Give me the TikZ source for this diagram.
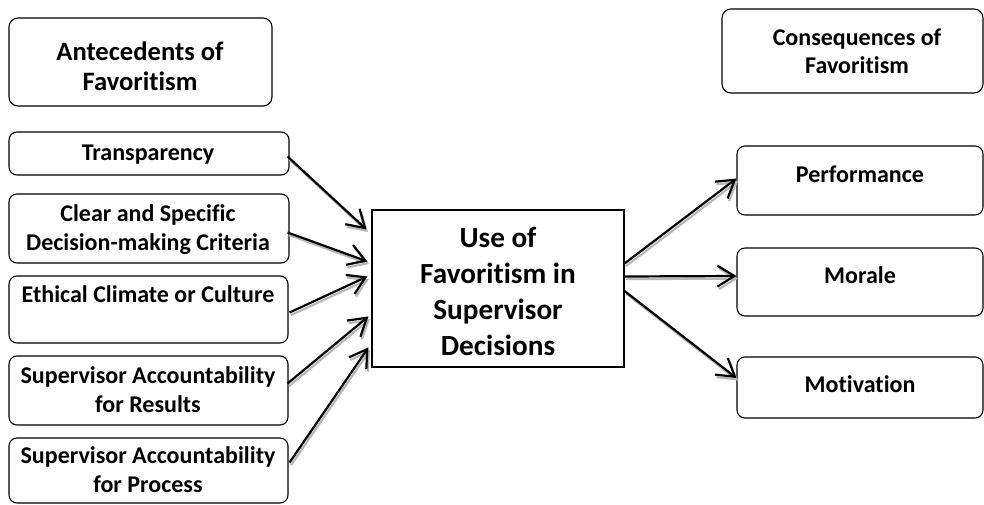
\documentclass[tikz,border=0pt]{standalone}
\usepackage{fontspec}
\setmainfont[Ligatures={NoCommon}]{Carlito}
\usetikzlibrary{arrows.meta,calc}
\begin{document}
\begin{tikzpicture}[x=1pt,y=-1pt,
  rbox/.style={draw, line width=1.1pt, rounded corners=9pt, inner sep=0pt},
  sqbox/.style={draw, line width=1.1pt, inner sep=0pt},
  lbl/.style={font=\fontsize{24}{28.5}\selectfont\bfseries, align=center, anchor=base, inner sep=0pt},
  hdl/.style={font=\fontsize{26.6}{30}\selectfont\bfseries, align=center, anchor=base, inner sep=0pt},
  hdr/.style={font=\fontsize{24}{28}\selectfont\bfseries, align=center, anchor=base, inner sep=0pt},
  ctr/.style={font=\fontsize{29.2}{35.7}\selectfont\bfseries, align=center, anchor=base, inner sep=0pt},
  arr/.style={line width=2.2pt, -{Straight Barb[length=17pt,width=21pt,line width=2.2pt]}},
  arrsh/.style={arr, draw=black!28, transform canvas={xshift=1.5pt,yshift=-2.6pt}}
]
\useasboundingbox (0,0) rectangle (984,504);

% boxes
\node[rbox, minimum width=263pt, minimum height=88pt] (ante) at (140.5,62) {};
\node[rbox, minimum width=261pt, minimum height=84pt] (cons) at (852.5,51) {};
\node[rbox, rounded corners=8pt, minimum width=280pt, minimum height=43pt] (trans) at (149,153.5) {};
\node[rbox, rounded corners=8pt, minimum width=280pt, minimum height=69pt] (clear) at (149,228.5) {};
\node[rbox, rounded corners=8pt, minimum width=279pt, minimum height=67pt] (ethic) at (148.5,309.5) {};
\node[rbox, rounded corners=8pt, minimum width=279pt, minimum height=69pt] (supr) at (148.5,390.5) {};
\node[rbox, rounded corners=8pt, minimum width=279pt, minimum height=65pt] (supp) at (148.5,470.5) {};
\node[sqbox, minimum width=252pt, minimum height=157pt] (use) at (498,288.5) {};
\node[rbox, rounded corners=8pt, minimum width=246pt, minimum height=69pt] (perf) at (860,180.5) {};
\node[rbox, rounded corners=8pt, minimum width=246pt, minimum height=68pt] (mor) at (860,282) {};
\node[rbox, rounded corners=8pt, minimum width=246pt, minimum height=61pt] (mot) at (860,387.5) {};

% texts (anchor = baseline of last line)
\node[hdl] (anteT) at (140,90) {Antecedents of\\Favoritism};
\node[hdr] (consT) at (857,73) {Consequences of\\Favoritism};
\node[lbl] (transT) at (148,160) {Transparency};
\node[lbl] (clearT) at (148,250) {Clear and Specific\\Decision-making Criteria};
\node[lbl] (ethicT) at (148,302) {Ethical Climate or Culture};
\node[lbl] (suprT) at (148,412) {Supervisor Accountability\\for Results};
\node[lbl] (suppT) at (148,492) {Supervisor Accountability\\for Process};
\node[ctr] (useT) at (498,355) {Use of\\Favoritism in\\Supervisor\\Decisions};
\node[lbl] (perfT) at (860,182) {Performance};
\node[lbl] (morT) at (860,283) {Morale};
\node[lbl] (motT) at (860,392) {Motivation};

% connectors (shadow then line)
\foreach \s in {arrsh,arr}{
  \draw[\s] ($(trans.east)+(-2,3)$) -- ($(use.north west)+(-5,20)$);
  \draw[\s] ($(clear.east)+(-2,4)$) -- ($(use.north west)+(-4,52)$);
  \draw[\s] ($(ethic.east)+(1,3)$) -- ($(use.north west)+(-4,67)$);
  \draw[\s] ($(supr.east)+(-1,-7)$) -- ($(use.north west)+(-3,107)$);
  \draw[\s] ($(supp.east)+(1,-8)$) -- ($(use.north west)+(-3,138)$);
  \draw[\s] ($(use.east)+(0,-25)$) -- ($(perf.west)+(0,-2)$);
  \draw[\s] ($(use.east)+(0,-12)$) -- ($(mor.west)+(0,-6)$);
  \draw[\s] ($(use.east)+(0,2.5)$) -- ($(mot.west)+(0,-9.5)$);
}
\end{tikzpicture}
\end{document}
